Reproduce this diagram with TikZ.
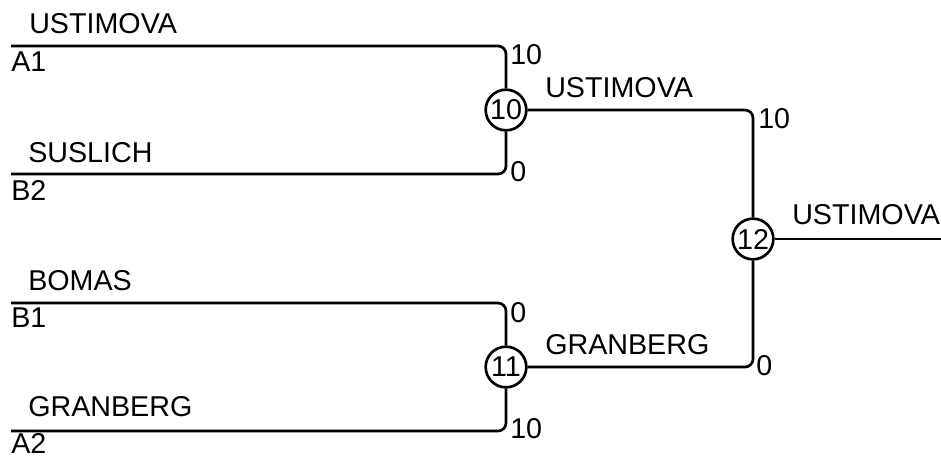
\documentclass[tikz,border=0pt]{standalone}
\usepackage{fontspec}
\setmainfont{Liberation Sans}

\begin{document}
\begin{tikzpicture}[x=0.75pt,y=0.75pt,yscale=-1,xscale=1,
    wire/.style={line width=2pt, rounded corners=6pt},
    match/.style={circle, draw, line width=2pt, minimum size=30.5pt, inner sep=0pt},
    lbl/.style={anchor=west, inner sep=0pt, font=\fontsize{21.5}{25}\selectfont}]
  \useasboundingbox (0,0) rectangle (941,455);
  % matches
  \node[match, lbl, anchor=center] (m10) at (506,110) {10};
  \node[match, lbl, anchor=center] (m11) at (506,367) {11};
  \node[match, lbl, anchor=center] (m12) at (753,239) {12};
  % line ends
  \coordinate (a1) at (11,46);
  \coordinate (b2) at (11,174);
  \coordinate (b1) at (11,303);
  \coordinate (a2) at (11,431);
  \coordinate (win) at (941,239);
  % bracket
  \draw[wire] (a1) -| (m10);
  \draw[wire] (b2) -| (m10);
  \draw[wire] (b1) -| (m11);
  \draw[wire] (a2) -| (m11);
  \draw[wire] (m10) -| (m12);
  \draw[wire] (m11) -| (m12);
  \draw[wire] (m12) -- (win);
  % players
  \node[lbl] (nUst) at (29,24) {USTIMOVA};
  \node[lbl] (sA1) at (11,62) {A1};
  \node[lbl] (nSus) at (28,152.5) {SUSLICH};
  \node[lbl] (sB2) at (11,190) {B2};
  \node[lbl] (nBom) at (28,281) {BOMAS};
  \node[lbl] (sB1) at (11,318) {B1};
  \node[lbl] (nGra) at (28,407) {GRANBERG};
  \node[lbl] (sA2) at (11,443) {A2};
  % scores
  \node[lbl] (p1) at (510,55) {10};
  \node[lbl] (p2) at (510,172) {0};
  \node[lbl] (p3) at (510,313) {0};
  \node[lbl] (p4) at (510,429) {10};
  \node[lbl] (p5) at (758,119) {10};
  \node[lbl] (p6) at (756,366) {0};
  % winners
  \node[lbl] (w10) at (545,88) {USTIMOVA};
  \node[lbl] (w11) at (545,344.5) {GRANBERG};
  \node[lbl] (w12) at (792,215) {USTIMOVA};
\end{tikzpicture}
\end{document}
